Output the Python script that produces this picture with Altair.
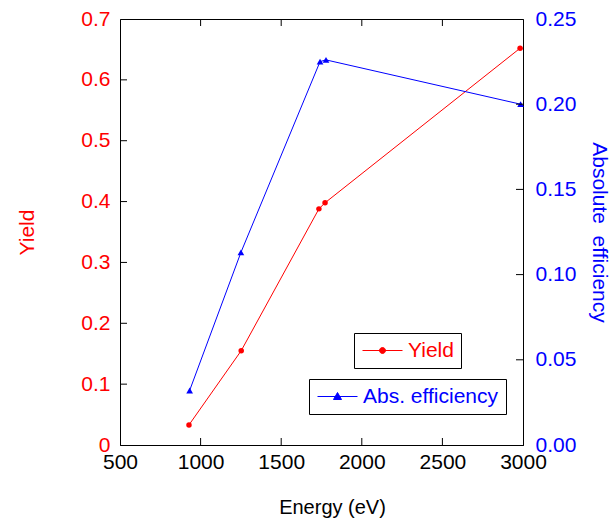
import altair as alt
import pandas as pd

# ---- data ----
energy_yield = [928, 1252, 1734, 1772, 2982]
yield_vals = [0.033, 0.155, 0.388, 0.398, 0.652]
energy_abs = [932, 1250, 1741, 1778, 2985]
abs_vals = [0.032, 0.113, 0.225, 0.226, 0.200]

x_labels = [500, 1000, 1500, 2000, 2500, 3000]
x_ticks = [1000, 1500, 2000, 2500]
left_labels = [0, 0.1, 0.2, 0.3, 0.4, 0.5, 0.6, 0.7]
left_ticks = [0.1, 0.2, 0.3, 0.4, 0.5, 0.6]
right_labels = [0, 0.05, 0.10, 0.15, 0.20, 0.25]
right_ticks = [0.05, 0.10, 0.15, 0.20]

W, H = 403, 426
RED = "#ff0000"
BLUE = "#0000ff"
FONT = "Liberation Sans"
FS = 21
TL = 7  # inward tick length

df_y = pd.DataFrame({"energy": energy_yield, "value": yield_vals, "series": "Yield"})
df_a = pd.DataFrame({"energy": energy_abs, "value": abs_vals, "series": "Abs. efficiency"})
df_xt = pd.DataFrame({"energy": x_ticks})
df_lt = pd.DataFrame({"value": left_ticks})
df_rt = pd.DataFrame({"value": right_ticks})

x_enc = alt.X(
    "energy:Q",
    scale=alt.Scale(domain=[500, 3000], nice=False, zero=False),
    axis=alt.Axis(
        title="Energy (eV)", titleFontSize=20, titleFontWeight="normal", titleColor="black",
        titlePadding=25, titleX=212, values=x_labels, format="d", labelFontSize=FS,
        labelColor="black", labelPadding=6, ticks=False, tickSize=0, grid=False,
        domainColor="black", labelFlush=False, labelOverlap=False, labelBound=False,
    ),
)

yl_enc = alt.Y(
    "value:Q",
    scale=alt.Scale(domain=[0, 0.7], nice=False, zero=False),
    axis=alt.Axis(
        orient="left", title="Yield", titleFontSize=FS, titleFontWeight="normal", titleColor=RED,
        titlePadding=43, values=left_labels, format="~g", labelFontSize=FS, labelColor=RED,
        labelPadding=10, ticks=False, tickSize=0, grid=False, domainColor="black",
        labelFlush=False, labelOverlap=False, labelBound=False,
    ),
)

yr_enc = alt.Y(
    "value:Q",
    scale=alt.Scale(domain=[0, 0.25], nice=False, zero=False),
    axis=alt.Axis(
        orient="right", title="Absolute\u00a0\u00a0efficiency", titleFontSize=FS, titleFontWeight="normal",
        titleColor=BLUE, titlePadding=13, values=right_labels, format=".2f", labelFontSize=FS,
        labelColor=BLUE, labelPadding=12, ticks=False, tickSize=0, grid=False, domainColor="black",
        labelFlush=False, labelOverlap=False, labelBound=False,
    ),
)

PATH_DOT = "M-5,0H5M-0.75,0A0.75,0.75 0 1,0 0.75,0A0.75,0.75 0 1,0 -0.75,0Z"
PATH_TRI = "M-5,0H5M-1,0.75L0,-1L1,0.75Z"

def legend(px, py, path, col):
    return alt.Legend(
        title=None, orient="none", legendX=px, legendY=py, direction="vertical",
        symbolType=path, symbolSize=64, symbolStrokeWidth=1, symbolFillColor=col,
        symbolStrokeColor=col, symbolOffset=11, labelOffset=15, labelColor=col,
        labelFontSize=FS, labelFont=FONT, strokeColor="black", fillColor="white",
        padding=7, cornerRadius=0,
    )

yield_line = alt.Chart(df_y).mark_line(strokeWidth=1).encode(
    x=x_enc, y=yl_enc,
    color=alt.Color("series:N", scale=alt.Scale(domain=["Yield"], range=[RED]),
                    legend=legend(234, 314, PATH_DOT, RED)),
)
yield_pts = alt.Chart(df_y).mark_point(filled=True, shape="circle", size=30, color=RED, opacity=1).encode(
    x=x_enc, y=yl_enc)
left_tk = alt.Chart(df_lt).mark_rule(color="black", strokeWidth=1).encode(
    x=alt.value(0), x2=alt.value(TL), y=yl_enc)

abs_line = alt.Chart(df_a).mark_line(strokeWidth=1).encode(
    x=x_enc, y=yr_enc,
    color=alt.Color("series:N", scale=alt.Scale(domain=["Abs. efficiency"], range=[BLUE]),
                    legend=legend(189, 360, PATH_TRI, BLUE)),
)
abs_pts = alt.Chart(df_a).mark_point(filled=True, shape="triangle-up", size=45, color=BLUE, opacity=1).encode(
    x=x_enc, y=yr_enc)
right_tk = alt.Chart(df_rt).mark_rule(color="black", strokeWidth=1).encode(
    x=alt.value(W), x2=alt.value(W - TL), y=yr_enc)

bottom_tk = alt.Chart(df_xt).mark_rule(color="black", strokeWidth=1).encode(
    x=x_enc, y=alt.value(H), y2=alt.value(H - TL))
top_tk = alt.Chart(df_xt).mark_rule(color="black", strokeWidth=1).encode(
    x=x_enc, y=alt.value(0), y2=alt.value(TL))

left_group = alt.layer(yield_line, yield_pts, left_tk)
right_group = alt.layer(abs_line, abs_pts, right_tk)

chart = alt.layer(left_group, right_group, bottom_tk, top_tk).resolve_scale(
    y="independent", color="independent"
).properties(
    width=W, height=H,
    autosize=alt.AutoSizeParams(type="none"),
    padding={"left": 120, "top": 19, "right": 91, "bottom": 73},
    background="white",
).configure_view(stroke="black", strokeWidth=1).configure_axis(
    labelFont=FONT, titleFont=FONT
)

chart.save("out.html", embed_options={"renderer": "svg", "actions": False})
